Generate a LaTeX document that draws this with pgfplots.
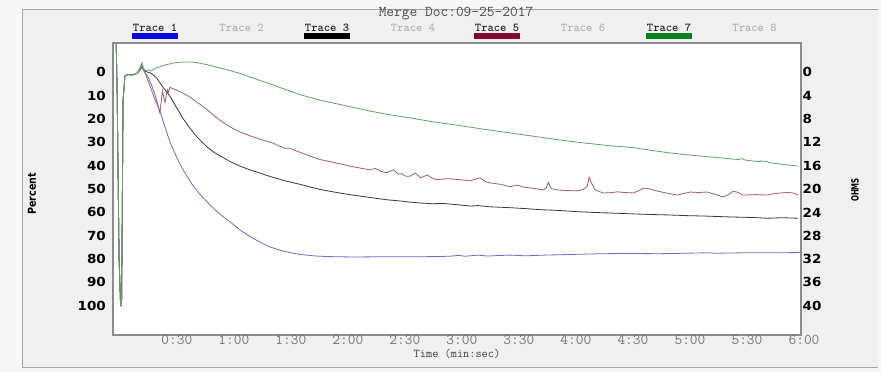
\documentclass[border=0pt]{standalone}
\usepackage{fontspec}
\newfontfamily\lab{DejaVu Sans}
\usepackage{graphicx}
\usepackage{pgfplots}
\usepackage{pgfplotstable}
\pgfplotsset{compat=1.18}

\definecolor{panel}{HTML}{F0F0F0}
\definecolor{outer}{HTML}{F7F7F7}
\definecolor{cA}{HTML}{6C6CC8}
\definecolor{cC}{HTML}{383838}
\definecolor{cE}{HTML}{9C5C72}
\definecolor{cG}{HTML}{62A262}
\definecolor{bA}{HTML}{0A0AE0}
\definecolor{bE}{HTML}{800836}
\definecolor{bG}{HTML}{0A801E}

\pgfplotstableread{
t p
-0.3 -12
0.2 10
1.2 80
2.0 100
2.5 100
3.3 12
4.3 1.5
6 1
8 1.2
10.6 0.5
11.8 -1
12.6 -2.5
13.3 -4
14 -1
15 0.5
16.4 3.5
18 7
19.5 10.5
21 13.5
22.7 16.5
24 20
25.4 23.5
27 27.5
28.5 31
31 35.5
33.3 39.5
36.5 44
40 48.5
44 52.5
47.5 55.5
51.5 58.8
55.9 61.8
60 64.3
64.8 67.5
70 70.3
75.4 72.8
80 74.6
85.9 76.2
91 77.2
96.4 78
102 78.5
107 78.8
115 79
125 79.1
140 79
160 79
175 78.8
180 78.4
183 78.8
190 78.3
195 78.7
200 78.5
207 78.3
215 78.6
225 78.3
240 78
255 77.7
270 77.6
285 77.7
300 77.5
310 77.3
315 77.5
330 77.3
345 77.3
360 77.2
}\traceA

\pgfplotstableread{
t p
-0.3 -12
0.2 10
1.2 80
2.0 100
2.5 100
3.3 12
4.3 1.5
6 1
8 1.2
10.6 0.5
11.8 -0.5
12.6 -1.5
13.3 -2
14 -1.5
15 -0.5
16.4 0
17.5 0.3
19 1
21 2.5
22.7 4.5
24.3 6.5
26.4 8.5
28.5 11
31.7 15.5
35 20
38.5 24
42 27.5
45 30
47.5 32
51.5 34.5
55.9 36.5
60 38.4
64.8 40.2
70 41.8
75 43.1
82 45
90 46.8
96.4 48
102 49.2
107 50.2
115 51.4
124 52.6
133 53.6
142 54.6
150 55.2
154 55.6
160 56
166 56.3
172 56.2
180 56.8
186 57.3
190 57.1
196 57.6
207 58
215 58.4
224 58.9
233 59.2
242 59.7
250 60
260 60.3
270 60.6
280 60.9
290 61.1
300 61.4
310 61.6
324 62
335 62.2
342 62.5
350 62.3
358.5 62.5
}\traceC

\pgfplotstableread{
t p
-0.3 -12
0.2 10
1.2 80
2.0 100
2.5 100
3.3 12
4.3 1.5
6 1
8 1.2
10.6 0.5
11.8 -1
12.6 -2
13.3 -3
14 -1
15.5 1
17 3
18.5 6
20 9.5
21 12
22.2 16
22.7 17.5
23.3 13
24 8
24.8 11
25.4 13
26 10
26.6 7.5
27.2 8.5
28 6.5
29.6 7
31.7 7.8
35 9
38.5 10.7
43 13.3
47.5 16
51.5 18.8
55.9 21.5
60 23.6
64.8 25.6
70 27.2
75 28.6
82 30.3
88 32.5
91 32.6
96.4 34.3
102 36
107 37.4
115 38.8
124 40.4
133 41.8
136 41.2
139 42.4
142 43
145.5 41.8
148 43.6
150 43.5
152 44.5
154.3 44.5
157 43.2
160 45.2
163.3 44
166 45.4
168.5 46
174 45.6
180.6 46
186 46.5
191.2 45.2
194 46.8
196.4 47.4
202 48
207 49
210.6 48.3
214 49.2
220 49.8
224.3 50.4
226 49.5
227 47.2
228.5 49.8
231.7 50.4
236 50.6
242.2 50.8
245 50.3
247.5 49
248.5 44.9
249.8 47.5
251.7 50.4
255.9 51.7
259.6 51.6
263.3 51.2
267 51.5
271.7 51.7
275 50.6
277 49.6
279.5 49.8
282.2 50.4
286 51.2
289.6 51.8
294.8 52.6
298 52
301.7 51.3
306 51.5
310.6 51.3
314 52.1
319 53.4
322 52.3
324.3 50.9
327 51.5
329.5 52.6
336 52.4
342.2 52.6
346 52
349 51.7
353 51.5
355.8 51.7
358.5 52.6
}\traceE

\pgfplotstableread{
t p
-0.3 -12
0.2 10
1.2 80
2.0 100
2.5 100
3.3 12
4.3 1.5
6 1
8 1.2
10.6 0.5
11.8 -1
12.6 -2.5
13.3 -3.5
14 -1.5
15 -0.8
16.4 -1
18 -0.5
19 -1
20.5 -1.8
22.7 -2.3
25 -3
28 -3.6
31 -4.1
33.3 -4.3
37 -4.4
40 -4.3
44 -3.8
47.5 -3.2
51.5 -2.4
55.9 -1.5
60 -0.6
64.8 0.5
72 2.6
80 4.8
88 7.2
96.4 9.6
107 12
115 13.4
124 15
133 16.6
142 18
154 19.5
166 21.2
180 22.8
193 24.4
207 26
220 27.5
233 29
246 30.3
259.6 31.5
271.7 32.3
280 33.3
289.6 34.4
298 35.2
307 35.9
317 36.6
327 37.4
329 37
330.5 37.6
338 38.3
339 37.9
340 38.4
342 38.2
343 38.7
350 39.4
358.5 40.2
}\traceG

\newcommand{\yl}[1]{\scalebox{1.08}[1]{#1}}

\begin{document}
\begin{tikzpicture}
\begin{scope}[x=1pt,y=1pt]
\fill[outer] (0,0) rectangle (881,372);
\useasboundingbox (0,0) rectangle (881,372);
\fill[panel] (22,4) rectangle (878,362);
\draw[black!35, line width=1pt] (878,362) -- (22,362) -- (22,4) -- (878,4);

% title
\node[font=\ttfamily\fontsize{15}{15}\selectfont, text=black!70, inner sep=0pt] at (456,358.5) {Merge Doc:09-25-2017};

% legend
\begin{scope}[every node/.style={font=\ttfamily\bfseries\fontsize{12}{12}\selectfont, inner sep=0pt}]
\node[text=black!85] at (155,344.5) {Trace 1};
\node[text=black!30] at (241.5,344.5) {Trace 2};
\node[text=black!85] at (327,344.5) {Trace 3};
\node[text=black!30] at (413,344.5) {Trace 4};
\node[text=black!85] at (497,344.5) {Trace 5};
\node[text=black!30] at (583,344.5) {Trace 6};
\node[text=black!85] at (669,344.5) {Trace 7};
\node[text=black!30] at (754.5,344.5) {Trace 8};
\end{scope}
\fill[bA] (132,333) rectangle (178,339);
\fill[black] (304,333) rectangle (350,339);
\fill[bE] (474,333) rectangle (520,339);
\fill[bG] (646,333) rectangle (692,339);

% axis labels
\node[rotate=90, font=\lab\bfseries\fontsize{11}{11}\selectfont] at (32,178) {\scalebox{0.87}[1]{Percent}};
\node[rotate=90, font=\lab\bfseries\fontsize{10}{10}\selectfont] at (855,182) {\scalebox{0.7}[1]{OHMS}};
\node[font=\ttfamily\fontsize{12}{12}\selectfont, text=black!75, inner sep=0pt] at (457,18) {Time (min:sec)};
\end{scope}

\begin{axis}[
  at={(113pt,37pt)}, anchor=south west,
  width=688pt, height=292pt, scale only axis,
  xmin=-2, xmax=360, ymin=-12.5, ymax=112.5, y dir=reverse,
  xtick={30,60,...,360},
  xticklabels={0:30,1:00,1:30,2:00,2:30,3:00,3:30,4:00,4:30,5:00,5:30,6:00},
  ytick={0,10,...,100},
  yticklabels={\yl{0},\yl{10},\yl{20},\yl{30},\yl{40},\yl{50},\yl{60},\yl{70},\yl{80},\yl{90},\yl{100}},
  major tick length=0pt,
  tick style={draw=none},
  axis background/.style={fill=white},
  axis line style={draw=black!45, line width=1.3pt},
  xticklabel style={font=\ttfamily\fontsize{15}{15}\selectfont, text=black!55, inner sep=0pt, xshift=3pt, yshift=0pt},
  yticklabel style={font=\lab\bfseries\fontsize{12.5}{12.5}\selectfont, inner sep=0pt, xshift=-7pt},
]
\addplot[cA, line width=0.8pt] table {\traceA};
\addplot[cC, line width=0.8pt] table {\traceC};
\addplot[cE, line width=0.8pt] table {\traceE};
\addplot[cG, line width=0.8pt] table {\traceG};
\end{axis}

\begin{axis}[
  at={(113pt,37pt)}, anchor=south west,
  width=688pt, height=292pt, scale only axis,
  xmin=-2, xmax=360, ymin=-5, ymax=45, y dir=reverse,
  axis x line=none, axis y line*=right,
  ytick={0,4,...,40},
  yticklabels={\yl{0},\yl{4},\yl{8},\yl{12},\yl{16},\yl{20},\yl{24},\yl{28},\yl{32},\yl{36},\yl{40}},
  major tick length=0pt,
  tick style={draw=none},
  axis line style={draw=black!45, line width=1.3pt},
  yticklabel style={font=\lab\bfseries\fontsize{12.5}{12.5}\selectfont, inner sep=0pt, xshift=1.5pt},
]
\addplot[draw=none] coordinates {(0,0)};
\end{axis}
\end{tikzpicture}
\end{document}
